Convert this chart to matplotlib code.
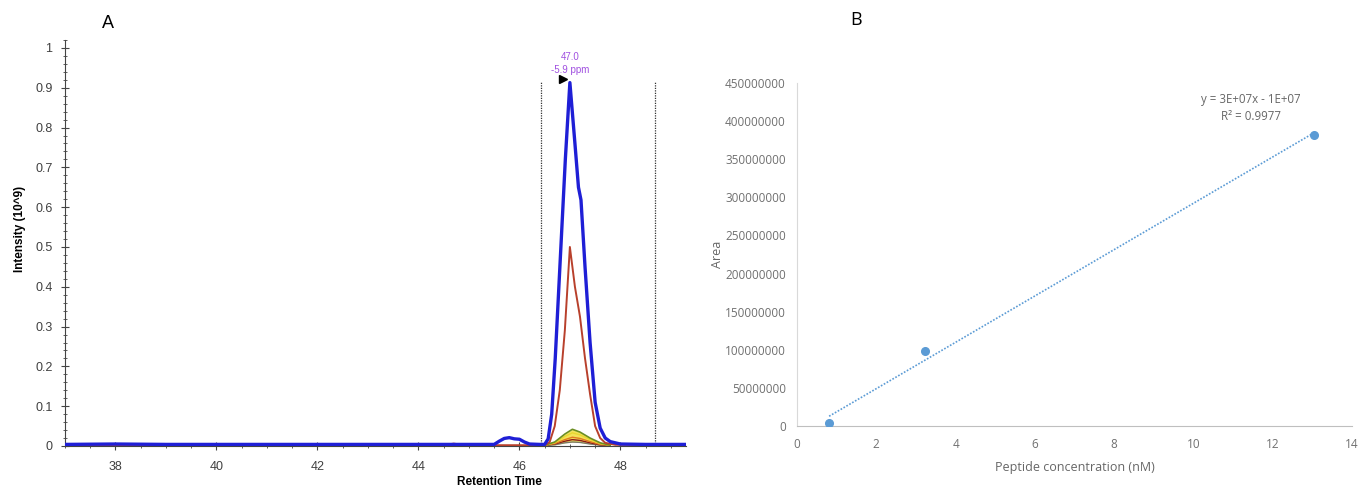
import numpy as np
import matplotlib
matplotlib.use("Agg")
import matplotlib.pyplot as plt
from matplotlib.ticker import MultipleLocator

# ---------------- Panel A data (chromatogram) ----------------
rt_blue = [37.0, 38.0, 39.0, 40.0, 41.0, 42.0, 43.0, 44.0, 45.0, 45.5, 45.6, 45.7,
           45.8, 45.9, 46.0, 46.1, 46.2, 46.4, 46.5, 46.57, 46.64, 46.71, 46.81,
           46.91, 47.0, 47.1, 47.17, 47.22, 47.3, 47.4, 47.5, 47.6, 47.7, 47.8,
           48.0, 48.5, 49.3]
int_blue = [0.004, 0.005, 0.004, 0.004, 0.004, 0.004, 0.004, 0.004, 0.004, 0.004,
            0.012, 0.019, 0.021, 0.018, 0.017, 0.010, 0.005, 0.004, 0.004, 0.018,
            0.08, 0.22, 0.47, 0.72, 0.913, 0.76, 0.65, 0.618, 0.45, 0.26, 0.11,
            0.045, 0.02, 0.011, 0.005, 0.004, 0.004]

rt_red = [37.0, 44.5, 44.7, 44.9, 46.5, 46.6, 46.7, 46.8, 46.9, 47.0, 47.1, 47.2,
          47.3, 47.4, 47.5, 47.6, 47.7, 47.9, 49.3]
int_red = [0.002, 0.002, 0.006, 0.002, 0.002, 0.010, 0.05, 0.14, 0.29, 0.50, 0.40,
           0.325, 0.22, 0.13, 0.05, 0.02, 0.008, 0.003, 0.002]

rt_small = [46.5, 46.7, 46.9, 47.05, 47.2, 47.4, 47.6, 47.8]
int_green = [0.002, 0.010, 0.030, 0.042, 0.035, 0.020, 0.008, 0.002]
int_yellow = [0.002, 0.008, 0.024, 0.033, 0.028, 0.016, 0.006, 0.002]
int_orange = [0.002, 0.006, 0.016, 0.022, 0.019, 0.011, 0.004, 0.002]
int_darkred = [0.002, 0.005, 0.012, 0.016, 0.014, 0.008, 0.003, 0.002]
int_gray = [0.001, 0.003, 0.008, 0.010, 0.009, 0.005, 0.002, 0.001]

boundaries = [46.43, 48.68]
apex_rt = 47.0
apex_label = ["47.0", "-5.9 ppm"]

# ---------------- Panel B data (calibration) ----------------
conc = [0.81, 3.23, 13.03]
area = [3.5e6, 9.8e7, 3.82e8]
eq_text = "y = 3E+07x - 1E+07"
r2_text = "R² = 0.9977"

W, H = 1364, 491
fig = plt.figure(figsize=(W / 100, H / 100), dpi=100)
fig.patch.set_facecolor("white")

def fx(px):
    return px / W

def fy(py):
    return 1 - py / H

# ---- Panel A ----
axA = fig.add_axes([fx(65), fy(446), fx(686) - fx(65), fy(40) - fy(446)])
axA.set_xlim(37.0, 49.3)
axA.set_ylim(0, 1.02)

axA.fill_between(rt_small, int_gray, int_green, color="#f3e25a", lw=0, zorder=2)
axA.plot(rt_small, int_gray, color="#7a7a6a", lw=1.0, zorder=3)
axA.plot(rt_small, int_darkred, color="#8b1a1a", lw=1.0, zorder=3)
axA.plot(rt_small, int_orange, color="#e07b20", lw=1.0, zorder=3)
axA.plot(rt_small, int_yellow, color="#e8d830", lw=1.0, zorder=3)
axA.plot(rt_small, int_green, color="#6b8e23", lw=1.2, zorder=3)
axA.plot(rt_red, int_red, color="#b8402c", lw=1.4, zorder=4)
axA.plot(rt_blue, int_blue, color="#1f1fd6", lw=2.4, zorder=5)

for b in boundaries:
    axA.plot([b, b], [0, 0.918], color="#333333", lw=0.9, ls=(0, (1, 1)), zorder=1)

axA.plot([46.86], [0.922], marker=">", color="black", markersize=6, zorder=6)
axA.text(apex_rt, 0.978, apex_label[0], color="#a050e0", fontsize=7,
         ha="center", va="center", family="Liberation Sans")
axA.text(apex_rt, 0.945, apex_label[1], color="#a050e0", fontsize=7,
         ha="center", va="center", family="Liberation Sans")

axA.spines["top"].set_visible(False)
axA.spines["right"].set_visible(False)
axA.spines["left"].set_color("#444444")
axA.spines["bottom"].set_color("#444444")
axA.xaxis.set_major_locator(MultipleLocator(2))
axA.xaxis.set_minor_locator(MultipleLocator(0.5))
axA.yaxis.set_major_locator(MultipleLocator(0.1))
axA.yaxis.set_minor_locator(MultipleLocator(0.02))
axA.tick_params(axis="both", which="major", direction="inout", length=6,
                color="#444444", labelsize=9, labelcolor="#404040")
axA.tick_params(axis="x", which="major", pad=8)
axA.tick_params(axis="y", which="major", pad=6)
axA.tick_params(axis="both", which="minor", direction="inout", length=3,
                color="#444444")
axA.set_yticks(np.round(np.arange(0, 1.01, 0.1), 1))
axA.set_yticklabels(["0"] + [f"{v:.1f}" for v in np.arange(0.1, 0.95, 0.1)] + ["1"])
for lab in axA.get_xticklabels() + axA.get_yticklabels():
    lab.set_family("Liberation Sans")
axA.set_xlabel("Retention Time", fontsize=8.5, fontweight="bold",
               family="Liberation Sans")
axA.xaxis.set_label_coords(0.70, -0.075)
axA.set_ylabel("Intensity (10^9)", fontsize=8.5, fontweight="bold",
               family="Liberation Sans")
axA.yaxis.set_label_coords(-0.062, 0.535)
fig.text(fx(108), fy(24), "A", fontsize=13, family="Liberation Sans",
         ha="center", va="center")

# ---- Panel B ----
axB = fig.add_axes([fx(797), fy(426), fx(1352) - fx(797), fy(83) - fy(426)])
axB.set_xlim(0, 14)
axB.set_ylim(0, 4.5e8)

slope, intercept = np.polyfit(conc, area, 1)
xs = np.array([min(conc), max(conc)])
axB.plot(xs, slope * xs + intercept, color="#5b9bd5", lw=1.2, ls=(0, (1, 1)),
         zorder=2)
axB.plot(conc, area, "o", color="#5b9bd5", markersize=5.5, zorder=3)

axB.text(11.45, 4.28e8, eq_text, fontsize=8.3, color="#666666", ha="center",
         va="center", family="Open Sans")
axB.text(11.45, 4.06e8, r2_text, fontsize=8.3, color="#666666", ha="center",
         va="center", family="Open Sans")

axB.spines["top"].set_visible(False)
axB.spines["right"].set_visible(False)
axB.spines["left"].set_color("#d9d9d9")
axB.spines["bottom"].set_color("#bfbfbf")
axB.xaxis.set_major_locator(MultipleLocator(2))
axB.yaxis.set_major_locator(MultipleLocator(5e7))
axB.tick_params(axis="both", length=0, labelsize=8.5, labelcolor="#707070")
axB.tick_params(axis="y", pad=8)
axB.tick_params(axis="x", pad=9)
axB.set_yticks(np.arange(0, 4.5e8 + 1, 5e7))
axB.set_yticklabels([str(int(v)) for v in np.arange(0, 4.5e8 + 1, 5e7)])
for lab in axB.get_xticklabels() + axB.get_yticklabels():
    lab.set_family("Open Sans")
axB.set_xlabel("Peptide concentration (nM)", fontsize=9, color="#666666",
               family="Open Sans", labelpad=7)
axB.set_ylabel("Area", fontsize=9, color="#666666", family="Open Sans",
               labelpad=1)
fig.text(fx(856), fy(20), "B", fontsize=13, family="Open Sans",
         ha="center", va="center")

fig.savefig("out.png", dpi=100)
